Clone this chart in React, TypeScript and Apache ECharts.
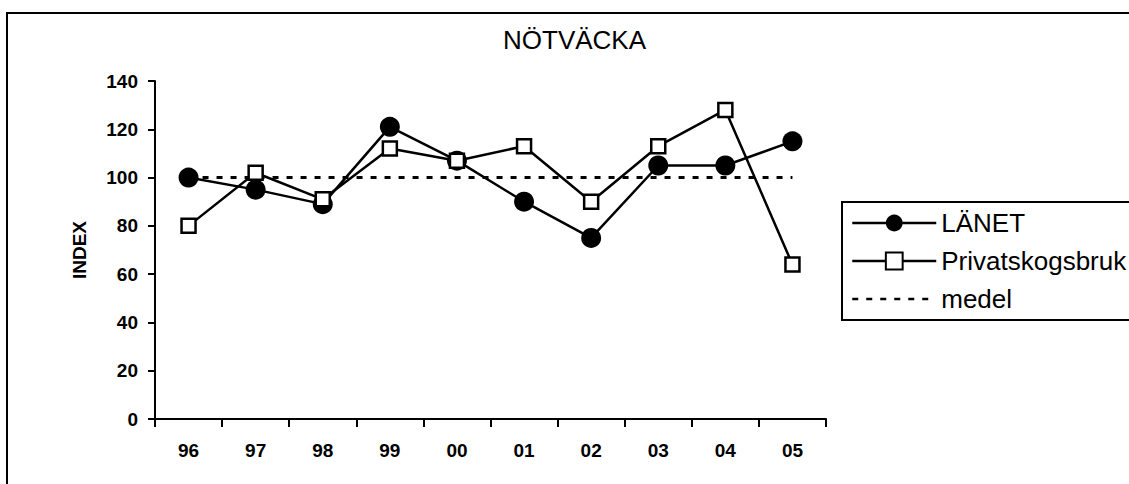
import React, { useEffect, useRef } from "react";
import * as echarts from "echarts";

const years = ["96", "97", "98", "99", "00", "01", "02", "03", "04", "05"];
const lanet = [100, 95, 89, 121, 107, 90, 75, 105, 105, 115];
const privat = [80, 102, 91, 112, 107, 113, 90, 113, 128, 64];
const medel = [100, 100, 100, 100, 100, 100, 100, 100, 100, 100];

const FONT = "'Liberation Sans', Arial, Helvetica, sans-serif";

export default function App() {
  const ref = useRef<HTMLDivElement>(null);
  useEffect(() => {
    if (!ref.current) return;
    const chart = echarts.init(ref.current, null, { renderer: "svg" });
    chart.setOption({
      animation: false,
      backgroundColor: "#ffffff",
      textStyle: { fontFamily: FONT },
      title: {
        text: "NÖTVÄCKA",
        left: 503,
        top: 27,
        padding: 0,
        textStyle: { fontFamily: FONT, fontSize: 26, fontWeight: "normal", color: "#000" },
      },
      graphic: [
        {
          type: "rect",
          shape: { x: 7, y: 13, width: 1300, height: 700 },
          style: { fill: "none", stroke: "#000", lineWidth: 2 },
          silent: true,
          z: -1,
        },
        {
          type: "rect",
          shape: { x: 842, y: 202, width: 400, height: 118 },
          style: { fill: "none", stroke: "#000", lineWidth: 2 },
          silent: true,
          z: 10,
        },
      ],
      legend: {
        orient: "vertical",
        left: 842,
        top: 202,
        padding: [8, 9, 7, 9],
        itemGap: 12,
        itemWidth: 84,
        itemHeight: 21,
        borderWidth: 0,
        lineStyle: { width: 2.5 },
        textStyle: { fontFamily: FONT, fontSize: 26, color: "#000" },
        data: [
          "LÄNET",
          "Privatskogsbruk",
          { name: "medel", itemStyle: { opacity: 0, color: "rgba(0,0,0,0)", borderWidth: 0 } },
        ],
      },
      grid: { left: 155, right: 303, top: 81, bottom: 65 },
      xAxis: {
        type: "category",
        data: years,
        boundaryGap: true,
        axisLine: { lineStyle: { color: "#000", width: 2 } },
        axisTick: { show: true, length: 8, lineStyle: { color: "#000", width: 2 } },
        axisLabel: { margin: 22, fontFamily: FONT, fontSize: 19, fontWeight: "bold", color: "#000" },
      },
      yAxis: {
        type: "value",
        min: 0,
        max: 140,
        interval: 20,
        name: "INDEX",
        nameLocation: "middle",
        nameGap: 66,
        nameRotate: 90,
        nameTextStyle: { fontFamily: FONT, fontSize: 19, fontWeight: "bold", color: "#000" },
        splitLine: { show: false },
        axisLine: { show: true, lineStyle: { color: "#000", width: 2 } },
        axisTick: { show: true, length: 7, lineStyle: { color: "#000", width: 2 } },
        axisLabel: { margin: 17, fontFamily: FONT, fontSize: 19, fontWeight: "bold", color: "#000" },
      },
      series: [
        {
          name: "medel",
          type: "line",
          data: medel,
          symbol: "none",
          lineStyle: { color: "#000", width: 3, type: [6, 8] },
          itemStyle: { color: "#000" },
          z: 1,
        },
        {
          name: "LÄNET",
          type: "line",
          data: lanet,
          symbol: "circle",
          symbolSize: 20,
          lineStyle: { color: "#000", width: 2.5 },
          itemStyle: { color: "#000" },
          z: 2,
        },
        {
          name: "Privatskogsbruk",
          type: "line",
          data: privat,
          symbol: "rect",
          symbolSize: 14,
          lineStyle: { color: "#000", width: 2.5 },
          itemStyle: { color: "#fff", borderColor: "#000", borderWidth: 2.5 },
          z: 3,
        },
      ],
    });
    return () => chart.dispose();
  }, []);
  return (
    <div
      ref={ref}
      style={{ position: "fixed", left: 0, top: 0, width: 1129, height: 484 }}
    />
  );
}
